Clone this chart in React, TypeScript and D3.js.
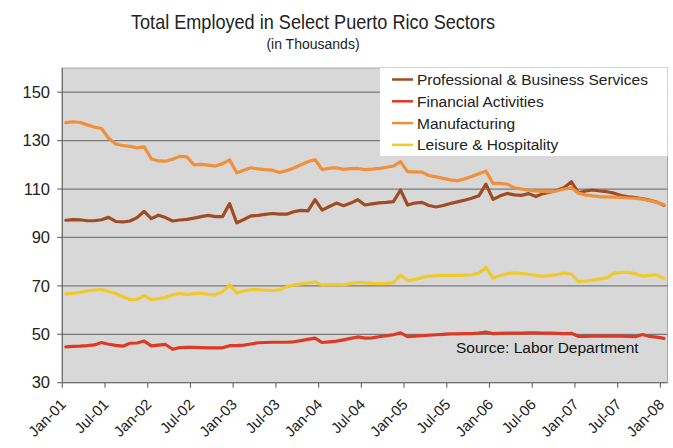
import React from "react";
import * as d3 from "d3";

const TICK_LABELS = [
  "Jan-01", "Jul-01", "Jan-02", "Jul-02", "Jan-03", "Jul-03", "Jan-04", "Jul-04",
  "Jan-05", "Jul-05", "Jan-06", "Jul-06", "Jan-07", "Jul-07", "Jan-08",
];
const Y_TICKS = [30, 50, 70, 90, 110, 130, 150];

const SERIES_NAMES = [
  "Professional & Business Services",
  "Financial Activities",
  "Manufacturing",
  "Leisure & Hospitality",
];
const SERIES_COLORS = ["#a04c22", "#dc3a24", "#f0903a", "#f1c92c"];

// Monthly values, Jan-2001 .. Jan-2008 (thousands)
const professional = [
  97.1, 97.4, 97.3, 96.9, 96.9, 97.3, 98.3, 96.6, 96.4, 96.8, 98.2, 100.8,
  97.8, 99.2, 98.2, 96.8, 97.2, 97.5, 98.0, 98.6, 99.1, 98.6, 98.6, 104.0,
  96.0, 97.4, 98.9, 99.1, 99.5, 99.9, 99.6, 99.6, 100.6, 101.2, 101.0, 105.6,
  101.3, 102.8, 104.2, 103.1, 104.2, 105.6, 103.4, 103.9, 104.3, 104.5, 104.8, 109.6,
  103.4, 104.2, 104.5, 103.2, 102.6, 103.2, 104.0, 104.7, 105.4, 106.2, 107.2, 112.0,
  105.7, 107.2, 108.2, 107.6, 107.4, 108.1, 106.9, 108.1, 108.7, 109.5, 110.6, 113.0,
  108.4, 109.2, 109.6, 109.2, 108.9, 108.3, 107.3, 106.8, 106.5, 106.0, 105.4, 104.6,
  103.3,
];
const financial = [
  44.8, 45.0, 45.1, 45.3, 45.6, 46.6, 45.9, 45.4, 45.1, 46.3, 46.4, 47.2,
  45.2, 45.5, 45.8, 43.8, 44.5, 44.6, 44.6, 44.5, 44.4, 44.4, 44.4, 45.3,
  45.3, 45.5, 46.0, 46.5, 46.6, 46.7, 46.7, 46.7, 46.9, 47.4, 47.9, 48.4,
  46.6, 46.9, 47.2, 47.7, 48.3, 48.9, 48.4, 48.5, 49.0, 49.4, 49.8, 50.6,
  49.0, 49.2, 49.4, 49.6, 49.8, 50.0, 50.2, 50.2, 50.3, 50.3, 50.5, 50.9,
  50.3, 50.4, 50.5, 50.5, 50.5, 50.6, 50.6, 50.5, 50.5, 50.4, 50.3, 50.4,
  49.1, 49.1, 49.2, 49.2, 49.2, 49.2, 49.2, 49.1, 49.0, 49.9, 49.1, 48.8,
  48.3,
];
const manufacturing = [
  137.4, 137.8, 137.5, 136.5, 135.6, 135.0, 131.0, 128.6, 128.0, 127.6, 127.0, 127.4,
  122.5, 121.6, 121.5, 122.3, 123.5, 123.3, 120.0, 120.2, 119.9, 119.5, 120.5, 122.0,
  116.7, 117.8, 118.8, 118.3, 118.0, 117.8, 116.8, 117.6, 118.7, 120.0, 121.3, 122.2,
  118.0, 118.6, 118.8, 118.1, 118.4, 118.5, 118.0, 118.2, 118.5, 119.0, 119.5, 121.3,
  117.2, 117.1, 117.0, 115.6, 115.0, 114.4, 113.8, 113.4, 114.2, 115.2, 116.3, 117.4,
  112.3, 112.3, 112.0, 110.5, 110.0, 109.5, 109.2, 109.0, 108.8, 109.3, 110.0, 110.5,
  108.3, 107.6, 107.2, 106.8, 106.8, 106.7, 106.5, 106.3, 106.2, 105.8, 105.2, 104.5,
  103.5,
];
const leisure = [
  66.7, 67.0, 67.3, 67.9, 68.3, 68.5, 67.7, 66.9, 65.6, 64.3, 64.4, 66.0,
  64.3, 64.7, 65.2, 66.3, 66.9, 66.4, 66.8, 67.0, 66.5, 66.3, 67.6, 70.4,
  67.1, 67.9, 68.5, 68.4, 68.2, 68.1, 68.4, 69.6, 70.3, 70.8, 71.2, 71.6,
  70.3, 70.5, 70.6, 70.4, 71.0, 71.4, 71.2, 71.0, 70.9, 71.0, 71.3, 74.5,
  72.2, 72.6, 73.4, 74.0, 74.1, 74.3, 74.3, 74.3, 74.4, 74.6, 75.2, 77.6,
  73.2, 74.3, 75.0, 75.4, 75.1, 74.8, 74.3, 73.9, 74.2, 74.7, 75.3, 74.8,
  71.8, 72.0, 72.4, 72.9, 73.3, 75.3, 75.6, 75.6, 75.0, 74.0, 74.3, 74.6,
  73.0,
];
const SERIES = [professional, financial, manufacturing, leisure];

const W = 673;
const H = 448;
const PL = 62.3;
const PR = 667.5;
const PT = 68;
const PB = 382.7;
const FONT = "Liberation Sans, Arial, sans-serif";

export default function App() {
  const nMonths = professional.length;
  const x = d3.scaleLinear().domain([0, nMonths]).range([PL, PR]);
  const y = d3.scaleLinear().domain([30, 160]).range([PB, PT]);
  const line = d3
    .line<number>()
    .x((_, i) => x(i + 0.5))
    .y((v) => y(v));

  const tickIdx = TICK_LABELS.map((_, k) => k * 6);

  return (
    <div style={{ position: "fixed", left: 0, top: 0 }}>
      <svg width={W} height={H} style={{ display: "block", fontFamily: FONT }}>
        <rect x={0} y={0} width={W} height={H} fill="#ffffff" />
        <text
          x={313}
          y={29}
          textAnchor="middle"
          fontSize={21}
          fill="#222"
          textLength={364}
          lengthAdjust="spacingAndGlyphs"
        >
          Total Employed in Select Puerto Rico Sectors
        </text>
        <text x={313} y={49} textAnchor="middle" fontSize={14} fill="#222">
          (in Thousands)
        </text>

        <rect x={PL} y={PT} width={PR - PL} height={PB - PT} fill="#d8d8d8" stroke="#a8a8a8" strokeWidth={1} />

        {Y_TICKS.filter((t) => t > 30).map((t) => (
          <line key={"g" + t} x1={PL} x2={PR} y1={y(t)} y2={y(t)} stroke="#7a7a7a" strokeWidth={1.3} />
        ))}

        {SERIES.map((s, k) => (
          <path
            key={"s" + k}
            d={line(s) || ""}
            fill="none"
            stroke={SERIES_COLORS[k]}
            strokeWidth={3.2}
            strokeLinejoin="round"
            strokeLinecap="round"
          />
        ))}

        <line x1={PL} x2={PL} y1={PT} y2={PB} stroke="#707070" strokeWidth={1.3} />
        <line x1={PL} x2={PR} y1={PB} y2={PB} stroke="#707070" strokeWidth={1.3} />

        {Y_TICKS.map((t) => (
          <g key={"y" + t}>
            <line x1={PL - 5} x2={PL} y1={y(t)} y2={y(t)} stroke="#707070" strokeWidth={1.2} />
            <text x={50} y={y(t)} dy="0.35em" textAnchor="end" fontSize={16.5} fill="#222">
              {t}
            </text>
          </g>
        ))}

        {tickIdx.map((m, k) => (
          <g key={"x" + m}>
            <line x1={x(m)} x2={x(m)} y1={PB} y2={PB + 5} stroke="#707070" strokeWidth={1.2} />
            <text
              transform={`translate(${x(m) + 1},${PB + 19}) rotate(-45)`}
              textAnchor="end"
              dy="0.35em"
              fontSize={15}
              fill="#222"
            >
              {TICK_LABELS[k]}
            </text>
          </g>
        ))}

        <rect x={380} y={PT} width={PR - 380} height={88} fill="#ffffff" />
        {SERIES_NAMES.map((name, k) => {
          const ly = 79.5 + k * 21.8;
          return (
            <g key={"l" + k}>
              <line x1={392} x2={413} y1={ly} y2={ly} stroke={SERIES_COLORS[k]} strokeWidth={2.5} />
              <text x={417} y={ly} dy="0.35em" fontSize={15.5} fill="#222">
                {name}
              </text>
            </g>
          );
        })}

        <text x={456} y={353} fontSize={15.5} fill="#111">
          Source: Labor Department
        </text>
      </svg>
    </div>
  );
}
